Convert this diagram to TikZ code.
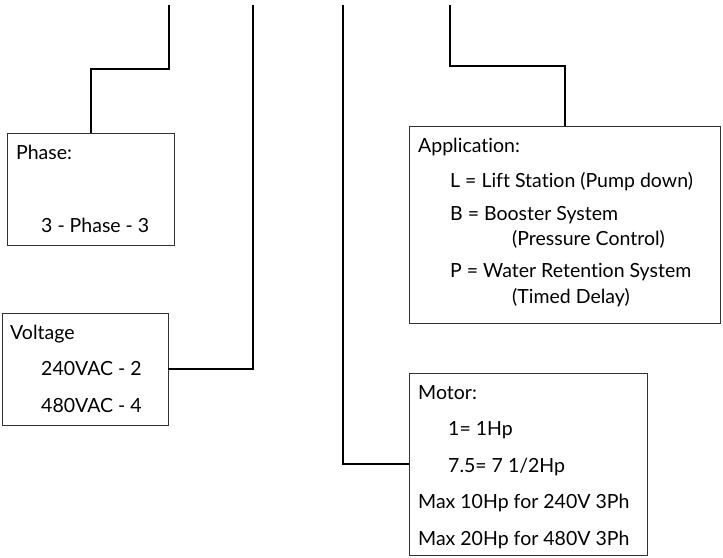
\documentclass[tikz,border=0pt]{standalone}
\usepackage{fontspec}
\setmainfont{Lato}[Ligatures={NoCommon,NoRare}]
\usetikzlibrary{positioning,calc}
\definecolor{boxgray}{RGB}{50,50,50}

\begin{document}
\begin{tikzpicture}[x=1pt, y=-1pt,
    field/.style={draw=boxgray, line width=0.9pt, rectangle, inner sep=0pt},
    entry/.style={anchor=base west, inner sep=0pt, font=\fontsize{19.5}{22}\selectfont},
    wire/.style={line width=2pt, black},
]
    \useasboundingbox (0,0) rectangle (723,557);
    % Phase box
    \node[field, minimum width=167pt, minimum height=112pt] (phase) at (90.5,189) {};
    \node[entry] (phaseHead) at (16,159) {Phase:};
    \node[entry] (phaseVal) at (41,232) {3 - Phase - 3};
    % Voltage box
    \node[field, minimum width=166pt, minimum height=112pt] (volt) at (85,369) {};
    \node[entry] (voltHead) at (10,339) {Voltage};
    \node[entry] (volt2) at (41,375) {240VAC - 2};
    \node[entry] (volt4) at (41,412) {480VAC - 4};
    % Application box
    \node[field, minimum width=311pt, minimum height=197pt] (app) at (564.5,224.5) {};
    \node[entry] (appHead) at (418,152) {Application:};
    \node[entry] (appL) at (450,187) {L = Lift Station (Pump down)};
    \node[entry] (appB) at (450,220) {B = Booster System};
    \node[entry] (appBsub) at (512,245) {(Pressure Control)};
    \node[entry] (appP) at (450,277) {P = Water Retention System};
    \node[entry] (appPsub) at (512,303) {(Timed Delay)};
    % Motor box
    \node[field, minimum width=238pt, minimum height=182pt] (motor) at (528,464) {};
    \node[entry] (motorHead) at (418,399) {Motor:};
    \node[entry] (motor1) at (448,435) {1= 1Hp};
    \node[entry] (motor75) at (448,472) {7.5= 7 1/2Hp};
    \node[entry] (motorMax10) at (418,508) {Max 10Hp for 240V 3Ph};
    \node[entry] (motorMax20) at (418,545) {Max 20Hp for 480V 3Ph};
    % Wire ends
    \coordinate (phaseBend) at (169,69);
    \coordinate (phaseTop) at (169,5);
    \coordinate (voltTop) at (253,5);
    \coordinate (motorTop) at (343,5);
    \coordinate (appBend) at (450,66);
    \coordinate (appTop) at (450,5);
    % Wires
    \draw[wire] (phase.north) |- (phaseBend) -- (phaseTop);
    \draw[wire] (volt.east) -| (voltTop);
    \draw[wire] (motor.west) -| (motorTop);
    \draw[wire] (app.north) |- (appBend) -- (appTop);
\end{tikzpicture}
\end{document}
